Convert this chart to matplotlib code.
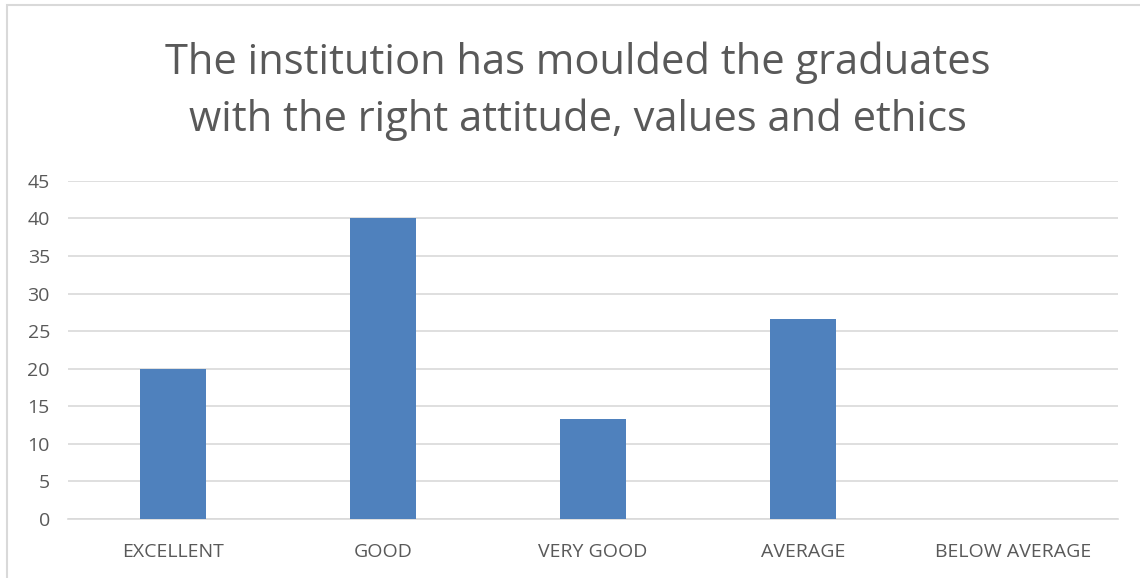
import matplotlib.pyplot as plt
from matplotlib.patches import Rectangle

categories = ['EXCELLENT', 'GOOD', 'VERY GOOD', 'AVERAGE', 'BELOW AVERAGE']
values = [20, 40, 13.33, 26.67, 0]
yticks = [0, 5, 10, 15, 20, 25, 30, 35, 40, 45]

plt.rcParams['font.family'] = ['Open Sans', 'DejaVu Sans']

fig = plt.figure(figsize=(11.4, 5.78), dpi=100)
ax = fig.add_axes([0.0596, 0.102, 0.9211, 0.585])

# chart frame (left and top edge visible)
fig.patches.append(Rectangle((7/1140, -0.1), 1.2, (578-5)/578 + 0.1,
                             transform=fig.transFigure, fill=False,
                             edgecolor='#d9d9d9', linewidth=1.5))

x = range(len(categories))
ax.bar(x, values, width=0.314, color='#4f81bd', zorder=3)

ax.set_xlim(-0.5, len(categories) - 0.5)
ax.set_ylim(0, 45)
ax.set_yticks(yticks)
ax.set_xticks(list(x))
ax.set_xticklabels(categories)
ax.grid(axis='y', color='#d9d9d9', linewidth=1.2, zorder=0)
for s in ['top', 'right', 'left']:
    ax.spines[s].set_visible(False)
ax.spines['bottom'].set_color('#d9d9d9')
ax.spines['bottom'].set_linewidth(1.2)
ax.tick_params(length=0, labelsize=14, colors='#595959')
ax.tick_params(axis='x', pad=17)
ax.tick_params(axis='y', pad=13)

fig.text(0.507, 0.842, 'The institution has moulded the graduates\nwith the right attitude, values and ethics',
         ha='center', va='center', fontsize=30, color='#595959', linespacing=1.42)

fig.savefig('out.png', dpi=100, facecolor='white')
